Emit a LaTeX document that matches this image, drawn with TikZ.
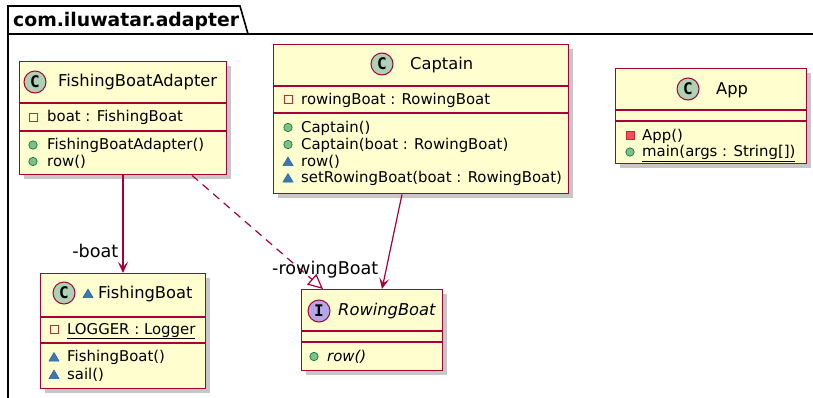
\documentclass[tikz,border=0pt]{standalone}
\usepackage{fontspec}
\setmainfont{DejaVu Sans}
\setmonofont{DejaVu Sans Mono}
\usepackage{xcolor}
\usetikzlibrary{arrows.meta}
\usetikzlibrary{calc}
\usetikzlibrary{shadows}

\definecolor{umlred}{HTML}{A80036}
\definecolor{umlfill}{HTML}{FEFECE}
\definecolor{classgreen}{HTML}{ADD1B2}
\definecolor{ifacepurple}{HTML}{B4A7E5}
\definecolor{privred}{HTML}{C82930}
\definecolor{privredfill}{HTML}{F24D5C}
\definecolor{pubgreen}{HTML}{038048}
\definecolor{pubgreenfill}{HTML}{84BE84}
\definecolor{pkgblue}{HTML}{1963A0}
\definecolor{pkgbluefill}{HTML}{4177AF}

\tikzset{
  umlbox/.style={draw=umlred, fill=umlfill, line width=1.4pt, rectangle, anchor=north west,
    inner sep=0pt, drop shadow={shadow xshift=4pt, shadow yshift=-4pt, fill=black, opacity=0.22}},
  sepline/.style={draw=umlred, line width=1.4pt},
  classmark/.style={circle, draw=umlred, fill=classgreen, line width=1pt, minimum size=22pt,
    inner sep=0pt, font=\fontsize{16}{16}\selectfont\ttfamily\bfseries},
  ifacemark/.style={classmark, fill=ifacepurple},
  nametext/.style={anchor=base west, inner sep=0pt, font=\fontsize{16.3}{18}\selectfont},
  membtext/.style={anchor=base west, inner sep=0pt, font=\fontsize{14.9}{17}\selectfont},
  roletext/.style={inner sep=0pt, font=\fontsize{17.6}{20}\selectfont},
  assoc/.style={draw=umlred, line width=1.2pt, -{Stealth[length=11pt, width=10pt, inset=5pt]}},
  realize/.style={draw=umlred, line width=1.2pt, dash pattern=on 8pt off 6pt,
    -{Triangle[open, length=15pt, width=14pt, fill=white]}}
}

% member visibility icons
\newcommand{\privfield}[2]{\draw[privred, line width=1pt] (#1-4,#2-4) rectangle (#1+4,#2+4);}
\newcommand{\privmethod}[2]{\draw[privred, fill=privredfill, line width=0.8pt] (#1-4,#2-4) rectangle (#1+4,#2+4);}
\newcommand{\pubmethod}[2]{\draw[pubgreen, fill=pubgreenfill, line width=0.7pt] (#1,#2) circle[radius=4.2pt];}
\newcommand{\pkgmethod}[2]{\draw[pkgblue, fill=pkgbluefill, line width=0.5pt] (#1-5,#2+4) -- (#1+5,#2+4) -- (#1,#2-4.5) -- cycle;}

\begin{document}
\begin{tikzpicture}[x=1pt,y=-1pt]
        \useasboundingbox (0,0) rectangle (813,397);
        \clip (0,0) rectangle (813,397);

        % package frame
        \draw[line width=1.6pt] (8,34) -- (8,6) -- (240,6) -- (248,34);
        \draw[line width=1.6pt] (8,420) -- (8,34) -- (830,34);
        \node[anchor=base west, inner sep=0pt, font=\fontsize{18.8}{22}\selectfont\bfseries] (pkgtitle) at (13,26.5) {com.iluwatar.adapter};

        % class boxes
        \node[umlbox, minimum width=207pt, minimum height=113pt] (adapter) at (19,61) {};
        \node[umlbox, minimum width=295pt, minimum height=149pt] (captain) at (273,44) {};
        \node[umlbox, minimum width=191pt, minimum height=95pt] (app) at (615,68) {};
        \node[umlbox, minimum width=165pt, minimum height=115pt] (fishing) at (40,273) {};
        \node[umlbox, minimum width=141pt, minimum height=81pt] (rowing) at (301,289) {};

        % compartments
        \draw[sepline] (19,103) -- (226,103);
        \draw[sepline] (19,131) -- (226,131);
        \draw[sepline] (273,86) -- (568,86);
        \draw[sepline] (273,113) -- (568,113);
        \draw[sepline] (615,110) -- (806,110);
        \draw[sepline] (615,121) -- (806,121);
        \draw[sepline] (40,317) -- (205,317);
        \draw[sepline] (40,343) -- (205,343);
        \draw[sepline] (301,331) -- (442,331);
        \draw[sepline] (301,342) -- (442,342);

        % FishingBoatAdapter
        \node[classmark] (adaptermark) at (35,82) {C};
        \node[nametext] (adaptername) at (58,86.7) {FishingBoatAdapter};
        \privfield{33}{117}
        \node[membtext] (adapterboat) at (47,121.7) {boat : FishingBoat};
        \pubmethod{33}{145}
        \node[membtext] (adapterctor) at (47,149.3) {FishingBoatAdapter()};
        \pubmethod{33}{161.5}
        \node[membtext] (adapterrow) at (47,166) {row()};

        % Captain
        \node[classmark] (captainmark) at (382,64) {C};
        \node[nametext] (captainname) at (410,69.3) {Captain};
        \privfield{288}{99.5}
        \node[membtext] (captainboat) at (301,104) {rowingBoat : RowingBoat};
        \pubmethod{288}{127.5}
        \node[membtext] (captainctora) at (301,132) {Captain()};
        \pubmethod{288}{144.5}
        \node[membtext] (captainctorb) at (301,149) {Captain(boat : RowingBoat)};
        \pkgmethod{288}{161.5}
        \node[membtext] (captainrow) at (301,166) {row()};
        \pkgmethod{288}{178}
        \node[membtext] (captainset) at (301,182.7) {setRowingBoat(boat : RowingBoat)};

        % App
        \node[classmark] (appmark) at (688,89) {C};
        \node[nametext] (appname) at (716,94.3) {App};
        \privmethod{630}{135.5}
        \node[membtext] (appctor) at (642,140) {App()};
        \pubmethod{630}{152}
        \node[membtext] (appmain) at (642,156.7) {\underline{main(args : String[])}};

        % FishingBoat
        \node[classmark] (fishingmark) at (64,293) {C};
        \pkgmethod{88}{293.5}
        \node[nametext] (fishingname) at (98,298.3) {FishingBoat};
        \privfield{54}{329.5}
        \node[membtext] (fishinglogger) at (67,334) {\underline{LOGGER : Logger}};
        \pkgmethod{54}{357}
        \node[membtext] (fishingctor) at (67,361.7) {FishingBoat()};
        \pkgmethod{54}{374.5}
        \node[membtext] (fishingsail) at (67,379) {sail()};

        % RowingBoat
        \node[ifacemark] (rowingmark) at (319,311) {I};
        \node[nametext, font=\fontsize{16.3}{18}\selectfont\itshape] (rowingname) at (338,315.7) {RowingBoat};
        \pubmethod{314}{356.5}
        \node[membtext, font=\fontsize{14.9}{17}\selectfont\itshape] (rowingrow) at (327,361) {row()};

        % relations
        \draw[assoc] ([xshift=104pt]adapter.south west) -- ([xshift=83pt]fishing.north west);
        \draw[realize] ([xshift=173pt]adapter.south west) -- ([xshift=22pt]rowing.north west);
        \draw[assoc] ([xshift=129pt]captain.south west) -- ([xshift=81pt]rowing.north west);
        \node[roletext, anchor=base east] (boatrole) at (118.5,257.3) {-boat};
        \node[roletext, anchor=base west] (rowingrole) at (272,274.3) {-rowingBoat};
\end{tikzpicture}
\end{document}
